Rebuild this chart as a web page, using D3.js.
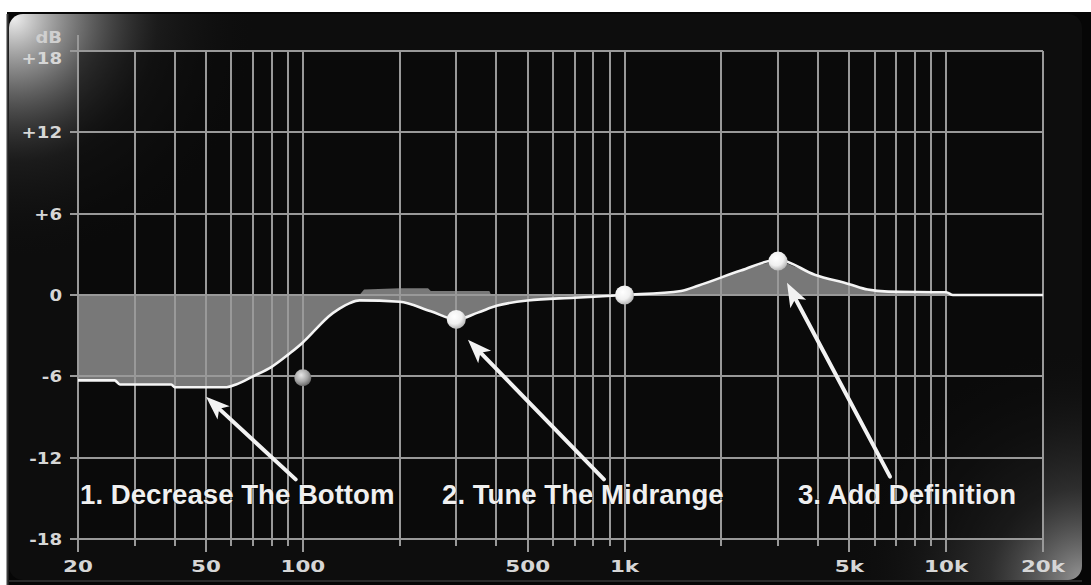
<!DOCTYPE html>
<html>
<head>
<meta charset="utf-8">
<script src="https://cdn.jsdelivr.net/npm/d3@7"></script>
<style>
  html, body { margin: 0; padding: 0; background: #ffffff; }
  svg { display: block; }
</style>
</head>
<body>
<svg id="chart" width="1091" height="585"></svg>
<script>
// ---- data ----
const curveFreq = [20, 26, 27, 39, 40, 58, 62, 70, 80, 90, 100, 110, 120, 130, 140, 150, 200, 250, 300, 350, 400, 500, 700, 1000, 1500, 1700, 2300, 3000, 3900, 5000, 5700, 6600, 10000, 10500, 20000];
const curveGain = [-6.3, -6.3, -6.6, -6.6, -6.8, -6.8, -6.6, -6.0, -5.3, -4.4, -3.5, -2.5, -1.6, -1.0, -0.6, -0.4, -0.5, -1.2, -1.8, -1.3, -0.8, -0.4, -0.2, 0, 0.3, 0.7, 1.8, 2.6, 1.5, 0.8, 0.4, 0.25, 0.2, 0, 0];

const fillFreq = [20, 150, 155, 200, 245, 250, 380, 385, 10500];
const fillGain = [0, 0, 0.4, 0.5, 0.5, 0.3, 0.3, 0, 0];

const bandFreq = [100, 300, 1000, 3000];
const bandGain = [-6.1, -1.8, 0, 2.5];

const yTicks = [-18, -12, -6, 0, 6, 12, 18];
const yTickLabels = ["-18", "-12", "-6", "0", "+6", "+12", "+18"];

const gridFreqs = [20, 30, 40, 50, 60, 70, 80, 90, 100, 200, 300, 400, 500, 600, 700, 800, 900, 1000,
                   2000, 3000, 4000, 5000, 6000, 7000, 8000, 9000, 10000, 20000];
const xLabelFreqs = [20, 50, 100, 500, 1000, 5000, 10000, 20000];
const xLabels = ["20", "50", "100", "500", "1k", "5k", "10k", "20k"];

const noteTexts = ["1. Decrease The Bottom", "2. Tune The Midrange", "3. Add Definition"];
const noteTextFreq = [20.3, 271, 3460];
const noteTextGain = [-15.4, -15.4, -15.4];
const noteHeadFreq = [50, 326, 3200];
const noteHeadGain = [-7.5, -3.3, 0.9];
const noteTailFreq = [95, 863, 6690];
const noteTailGain = [-13.6, -13.6, -13.4];

// ---- layout ----
const svg = d3.select("#chart");
const x = d3.scaleLog().domain([20, 20000]).range([78, 1043]);
const y = d3.scaleLinear().domain([-18, 18]).range([539, 51]);

const defs = svg.append("defs");
const glowTL = defs.append("radialGradient").attr("id", "glowTL")
  .attr("gradientUnits", "userSpaceOnUse").attr("cx", 14).attr("cy", 18).attr("r", 240);
glowTL.append("stop").attr("offset", "0").attr("stop-color", "#f4f4f4").attr("stop-opacity", 0.97);
glowTL.append("stop").attr("offset", "0.25").attr("stop-color", "#a8a8a8").attr("stop-opacity", 0.7);
glowTL.append("stop").attr("offset", "0.6").attr("stop-color", "#444").attr("stop-opacity", 0.25);
glowTL.append("stop").attr("offset", "1").attr("stop-color", "#111").attr("stop-opacity", 0);

const glowBR = defs.append("radialGradient").attr("id", "glowBR")
  .attr("gradientUnits", "userSpaceOnUse").attr("cx", 1082).attr("cy", 580).attr("r", 230);
glowBR.append("stop").attr("offset", "0").attr("stop-color", "#a5a5a5").attr("stop-opacity", 0.9);
glowBR.append("stop").attr("offset", "0.4").attr("stop-color", "#555").attr("stop-opacity", 0.45);
glowBR.append("stop").attr("offset", "1").attr("stop-color", "#111").attr("stop-opacity", 0);

const ball = defs.append("radialGradient").attr("id", "ball").attr("cx", "0.4").attr("cy", "0.35").attr("r", "0.65");
ball.append("stop").attr("offset", "0").attr("stop-color", "#ffffff");
ball.append("stop").attr("offset", "0.6").attr("stop-color", "#f0f0f0");
ball.append("stop").attr("offset", "1").attr("stop-color", "#b8b8b8");
const ballGray = defs.append("radialGradient").attr("id", "ballGray").attr("cx", "0.4").attr("cy", "0.35").attr("r", "0.65");
ballGray.append("stop").attr("offset", "0").attr("stop-color", "#e6e6e6");
ballGray.append("stop").attr("offset", "0.6").attr("stop-color", "#a8a8a8");
ballGray.append("stop").attr("offset", "1").attr("stop-color", "#6a6a6a");

const clipTL = defs.append("clipPath").attr("id", "panelClip");
clipTL.append("rect").attr("x", 9).attr("y", 14).attr("width", 1073).attr("height", 566).attr("rx", 14);

// frame
svg.append("rect").attr("x", 7).attr("y", 12).attr("width", 1084).attr("height", 573).attr("fill", "#060606");
svg.append("rect").attr("x", 9).attr("y", 14).attr("width", 1073).attr("height", 566).attr("rx", 14).attr("fill", "#0d0d0d");
svg.append("rect").attr("x", 9).attr("y", 14).attr("width", 1073).attr("height", 566).attr("clip-path", "url(#panelClip)").attr("fill", "url(#glowBR)");
svg.append("ellipse").attr("cx", 14).attr("cy", 18).attr("rx", 240).attr("ry", 240)
  .attr("clip-path", "url(#panelClip)").attr("fill", "url(#glowTL)");
// inner plot background
svg.append("rect").attr("x", 78).attr("y", 51).attr("width", 965).attr("height", 488).attr("fill", "#0a0a0a").attr("opacity", 0.55);
svg.append("line").attr("x1", 7.5).attr("x2", 7.5).attr("y1", 14).attr("y2", 585).attr("stroke", "#3a3a3a").attr("stroke-width", 2);
svg.append("line").attr("x1", 9).attr("x2", 1082).attr("y1", 581).attr("y2", 581).attr("stroke", "#2a2a2a").attr("stroke-width", 2);

// ---- fill ----
const curvePts = curveFreq.map((f, i) => [f, curveGain[i]]);
const fillTop = fillFreq.map((f, i) => [f, fillGain[i]]);
const fillMax = d3.max(fillFreq);
const fillBottom = curvePts.filter(p => p[0] <= fillMax).reverse();
const fillPoly = fillTop.concat(fillBottom);
svg.append("path")
  .attr("d", d3.line().x(d => x(d[0])).y(d => y(d[1]))(fillPoly) + "Z")
  .attr("fill", "#787878");

// ---- grid ----
const grid = svg.append("g").attr("stroke", "#999999").attr("stroke-width", 2).attr("fill", "none");
grid.selectAll("line.h").data(yTicks).join("line").attr("class", "h")
  .attr("x1", 70).attr("x2", x(20000))
  .attr("y1", d => Math.round(y(d))).attr("y2", d => Math.round(y(d)));
grid.selectAll("line.v").data(gridFreqs).join("line").attr("class", "v")
  .attr("x1", d => Math.round(x(d))).attr("x2", d => Math.round(x(d)))
  .attr("y1", d => d === 20 ? 35 : y(18))
  .attr("y2", d => xLabelFreqs.includes(d) ? y(-18) + 13 : y(-18) + 7);

// ---- curve ----
const line = d3.line().x(d => x(d[0])).y(d => y(d[1])).curve(d3.curveMonotoneX);
svg.append("path").attr("d", line(curvePts))
  .attr("fill", "none").attr("stroke", "#f4f4f4").attr("stroke-width", 2.6).attr("stroke-linejoin", "round");

// ---- band handles ----
svg.selectAll("circle.band").data(bandFreq).join("circle").attr("class", "band")
  .attr("cx", d => x(d)).attr("cy", (d, i) => y(bandGain[i]))
  .attr("r", (d, i) => i === 0 ? 8.5 : 9.5)
  .attr("fill", (d, i) => i === 0 ? "url(#ballGray)" : "url(#ball)");

// ---- axis labels ----
const axisFont = "'DejaVu Sans', sans-serif";
svg.append("text").attr("transform", `translate(62,43) scale(1.2,1)`)
  .attr("text-anchor", "end").attr("font-family", axisFont).attr("font-size", 15).attr("font-weight", "bold")
  .attr("fill", "#cfcfcf").text("dB");
svg.selectAll("text.ylab").data(yTicks).join("text").attr("class", "ylab")
  .attr("transform", d => `translate(62,${y(d) + (d === 18 ? 12.5 : 6)}) scale(1.1,1)`)
  .attr("text-anchor", "end").attr("font-family", axisFont).attr("font-size", 16.5).attr("font-weight", "bold")
  .attr("fill", "#d6d6d6").text((d, i) => yTickLabels[i]);
svg.selectAll("text.xlab").data(xLabelFreqs).join("text").attr("class", "xlab")
  .attr("transform", d => `translate(${x(d)},572) scale(1.3,1)`)
  .attr("text-anchor", "middle").attr("font-family", axisFont).attr("font-size", 16.5).attr("font-weight", "bold")
  .attr("fill", "#d6d6d6").text((d, i) => xLabels[i]);

// ---- annotations ----
const notes = svg.append("g");
noteTexts.forEach((t, i) => {
  const hx = x(noteHeadFreq[i]), hy = y(noteHeadGain[i]);
  const tx = x(noteTailFreq[i]), ty = y(noteTailGain[i]);
  const ang = Math.atan2(hy - ty, hx - tx);
  const L = 24, W = 9, notch = 18;
  const bx = hx - L * Math.cos(ang), by = hy - L * Math.sin(ang);
  const nx = hx - notch * Math.cos(ang), ny = hy - notch * Math.sin(ang);
  const px = -Math.sin(ang), py = Math.cos(ang);
  notes.append("line").attr("x1", tx).attr("y1", ty).attr("x2", nx).attr("y2", ny)
    .attr("stroke", "#f2f2f2").attr("stroke-width", 4).attr("stroke-linecap", "round");
  notes.append("path")
    .attr("d", `M${hx},${hy}L${bx + px * W},${by + py * W}L${nx},${ny}L${bx - px * W},${by - py * W}Z`)
    .attr("fill", "#f2f2f2");
  notes.append("text")
    .attr("x", x(noteTextFreq[i])).attr("y", y(noteTextGain[i]))
    .attr("font-family", "'Liberation Sans', Arial, sans-serif").attr("font-weight", "bold")
    .attr("font-size", 27.6).attr("fill", "#f0f0f0")
    .attr("stroke", "#000").attr("stroke-width", 0.5).attr("paint-order", "stroke")
    .text(t);
});
</script>
</body>
</html>
